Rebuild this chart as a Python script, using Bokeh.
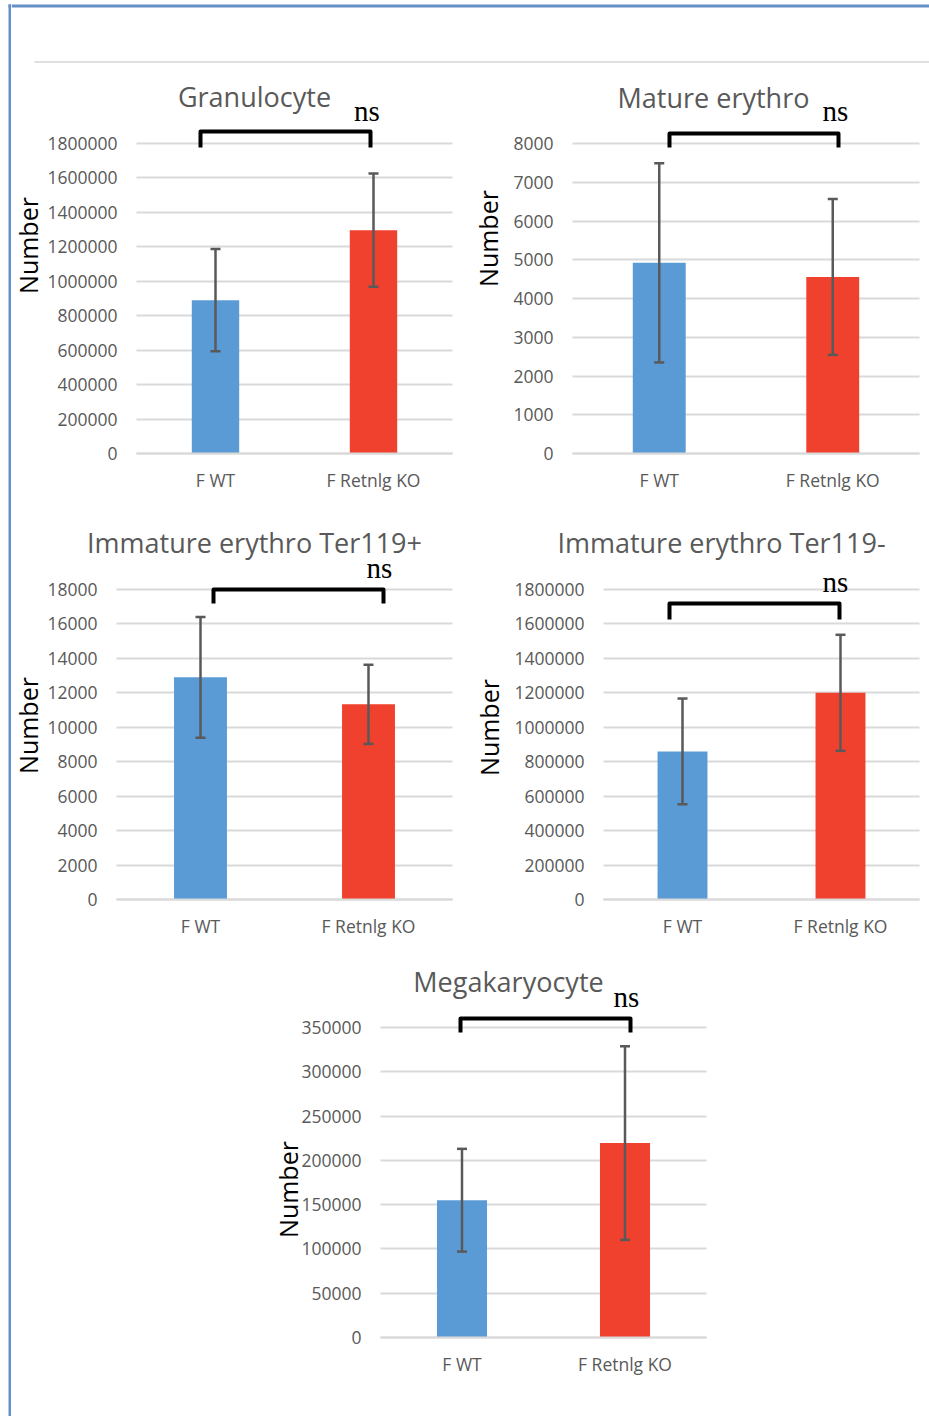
import math

from bokeh.plotting import figure
from bokeh.layouts import row, column
from bokeh.models import (Range1d, FixedTicker, Label, Whisker, TeeHead, Grid,
                          LinearAxis, ColumnDataSource, NumeralTickFormatter)
from bokeh.embed import file_html
from bokeh.resources import INLINE

# ---- data -------------------------------------------------------------
categories = ["F WT", "F Retnlg KO"]
panel_titles = ["Granulocyte", "Mature erythro", "Immature erythro Ter119+",
                "Immature erythro Ter119-", "Megakaryocyte"]
significance = "ns"
y_title = "Number"

granulocyte_mean = [890000, 1297000]
granulocyte_err = [297000, 329000]
granulocyte_ticks = [0, 200000, 400000, 600000, 800000, 1000000, 1200000, 1400000, 1600000, 1800000]

mature_mean = [4920, 4555]
mature_err = [2570, 2010]
mature_ticks = [0, 1000, 2000, 3000, 4000, 5000, 6000, 7000, 8000]

ter119_pos_mean = [12900, 11330]
ter119_pos_err = [3510, 2300]
ter119_pos_ticks = [0, 2000, 4000, 6000, 8000, 10000, 12000, 14000, 16000, 18000]

ter119_neg_mean = [860000, 1200000]
ter119_neg_err = [307000, 337000]
ter119_neg_ticks = [0, 200000, 400000, 600000, 800000, 1000000, 1200000, 1400000, 1600000, 1800000]

mega_mean = [155000, 219500]
mega_err = [58000, 109300]
mega_ticks = [0, 50000, 100000, 150000, 200000, 250000, 300000, 350000]

# ---- style ------------------------------------------------------------
BAR_COLORS = ["#5b9bd5", "#ef412d"]
GRID = "#d9d9d9"
TEXT = "#595959"
ERR = "#595959"
BORDER = "#6590c8"
SANS = "Open Sans"
SERIF = "Liberation Serif"

PAGE_W, PAGE_H = 929, 1416
STRIP_W = 11
HEADER_H = 70

# page geometry of each panel in pixels: figure origin/size, plot area
# (left, right, zero line, top tick line) and placement of the annotations
layouts = [
    dict(origin=(11, 70), size=(459, 435), area=(136, 452, 453, 143), bar_width=0.30,
         title_xy=(254, 96.2), ns_xy=(366.5, 110.2), ylabel_xy=(27, 245),
         bracket=(200, 370, 131, 147)),
    dict(origin=(470, 70), size=(459, 435), area=(572, 919, 453, 143), bar_width=0.305,
         title_xy=(713, 96.8), ns_xy=(835, 110.2), ylabel_xy=(487, 238),
         bracket=(669, 838, 133, 147)),
    dict(origin=(11, 505), size=(459, 440), area=(116, 452, 899, 589), bar_width=0.315,
         title_xy=(254, 541.8), ns_xy=(379, 567.2), ylabel_xy=(27, 725),
         bracket=(213, 383, 589, 603)),
    dict(origin=(470, 505), size=(459, 440), area=(603, 919, 899, 589), bar_width=0.316,
         title_xy=(721, 541.8), ns_xy=(835, 581.9), ylabel_xy=(488, 727),
         bracket=(669, 839, 603, 619)),
    dict(origin=(11, 945), size=(918, 471), area=(380, 706, 1337, 1027), bar_width=0.307,
         title_xy=(508, 981.2), ns_xy=(626, 996.2), ylabel_xy=(287, 1189),
         bracket=(460, 630, 1018, 1032)),
]

series = [
    (granulocyte_mean, granulocyte_err, granulocyte_ticks),
    (mature_mean, mature_err, mature_ticks),
    (ter119_pos_mean, ter119_pos_err, ter119_pos_ticks),
    (ter119_neg_mean, ter119_neg_err, ter119_neg_ticks),
    (mega_mean, mega_err, mega_ticks),
]

HAS_CROSS_BOUNDS = "cross_bounds" in Grid.properties()


def make_panel(title, means, errs, ticks, lay):
    ox, oy = lay["origin"]
    w, h = lay["size"]
    left, right, zero, top_tick = lay["area"]
    n = len(categories)
    ymax = ticks[-1]

    def dx(px):
        return (px - left) / (right - left) * n

    def dy(py):
        return (zero - py) / (zero - top_tick) * ymax

    # the frame covers the whole figure; axes sit at fixed data locations
    p = figure(width=w, height=h,
               x_range=Range1d(dx(ox), dx(ox + w)), y_range=Range1d(dy(oy + h), dy(oy)),
               x_axis_type=None, y_axis_type=None, min_border=0,
               toolbar_location=None, output_backend="svg")
    p.outline_line_color = None
    p.background_fill_color = "white"
    p.border_fill_color = "white"
    p.grid.visible = False

    xs = [i + 0.5 for i in range(n)]

    # horizontal gridlines over the plot area only
    if HAS_CROSS_BOUNDS:
        grid = Grid(dimension=1, ticker=FixedTicker(ticks=ticks), cross_bounds=(0, n),
                    grid_line_color=GRID, grid_line_width=2)
        p.add_layout(grid)
    else:
        p.segment(x0=[0] * len(ticks), x1=[n] * len(ticks), y0=ticks, y1=ticks,
                  line_color=GRID, line_width=2)

    src = ColumnDataSource(dict(
        x=xs, top=means, color=BAR_COLORS,
        upper=[m + e for m, e in zip(means, errs)],
        lower=[m - e for m, e in zip(means, errs)],
    ))
    p.vbar(x="x", top="top", bottom=0, width=lay["bar_width"], fill_color="color",
           line_color=None, source=src)

    # error bars drawn on top of the bars
    p.add_layout(Whisker(source=src, base="x", upper="upper", lower="lower",
                         dimension="height", line_color=ERR, line_width=2.5,
                         level="annotation",
                         upper_head=TeeHead(size=10, line_color=ERR, line_width=2.5),
                         lower_head=TeeHead(size=10, line_color=ERR, line_width=2.5)))

    yaxis = LinearAxis(fixed_location=0, ticker=FixedTicker(ticks=ticks),
                       formatter=NumeralTickFormatter(format="0"), bounds=(0, ymax),
                       axis_line_color=None, major_tick_line_color=None,
                       minor_tick_line_color=None, major_tick_out=0, major_tick_in=0,
                       major_label_standoff=19, major_label_text_font=SANS,
                       major_label_text_font_size="17.5px", major_label_text_color=TEXT)
    p.add_layout(yaxis, "left")

    xaxis = LinearAxis(fixed_location=0, ticker=FixedTicker(ticks=xs), bounds=(0, n),
                       major_label_overrides={x: c for x, c in zip(xs, categories)},
                       axis_line_color=GRID, axis_line_width=2,
                       major_tick_line_color=None, minor_tick_line_color=None,
                       major_tick_out=0, major_tick_in=0,
                       major_label_standoff=14, major_label_text_font=SANS,
                       major_label_text_font_size="17.5px", major_label_text_color=TEXT)
    p.add_layout(xaxis, "below")

    # significance bracket
    bx0, bx1, btop, bleg = lay["bracket"]
    p.line(x=[dx(bx0), dx(bx0), dx(bx1), dx(bx1)],
           y=[dy(bleg), dy(btop), dy(btop), dy(bleg)],
           line_color="black", line_width=4, line_join="round")

    tx, ty = lay["title_xy"]
    p.add_layout(Label(x=dx(tx), y=dy(ty), text=title, text_align="center",
                       text_baseline="middle", text_font=SANS,
                       text_font_size="27px", text_color=TEXT))
    nx, ny = lay["ns_xy"]
    p.add_layout(Label(x=dx(nx), y=dy(ny), text=significance, text_align="center",
                       text_baseline="middle", text_font=SERIF,
                       text_font_size="29px", text_color="black"))
    lx, ly = lay["ylabel_xy"]
    p.add_layout(Label(x=dx(lx), y=dy(ly), text=y_title, angle=math.pi / 2,
                       text_align="center", text_baseline="middle", text_font=SANS,
                       text_font_size="25px", text_color="black"))
    return p


panels = [make_panel(t, m, e, tk, lay)
          for t, (m, e, tk), lay in zip(panel_titles, series, layouts)]

# page frame: blue left/top rule and the grey separator line
strip = figure(width=STRIP_W, height=PAGE_H, x_range=Range1d(0, STRIP_W),
               y_range=Range1d(PAGE_H, 0), x_axis_type=None, y_axis_type=None,
               min_border=0, toolbar_location=None, output_backend="svg")
strip.outline_line_color = None
strip.grid.visible = False
strip.segment(x0=[9.5], y0=[4], x1=[9.5], y1=[PAGE_H], line_color=BORDER, line_width=3)
strip.segment(x0=[8], y0=[5.5], x1=[STRIP_W], y1=[5.5], line_color=BORDER, line_width=3)

header = figure(width=PAGE_W - STRIP_W, height=HEADER_H, x_range=Range1d(STRIP_W, PAGE_W),
                y_range=Range1d(HEADER_H, 0), x_axis_type=None, y_axis_type=None,
                min_border=0, toolbar_location=None, output_backend="svg")
header.outline_line_color = None
header.grid.visible = False
header.segment(x0=[STRIP_W], y0=[5.5], x1=[PAGE_W], y1=[5.5], line_color=BORDER, line_width=3)
header.segment(x0=[34], y0=[61.5], x1=[PAGE_W], y1=[61.5], line_color="#d4d4d4", line_width=1.5)

body = column(header, row(panels[0], panels[1]), row(panels[2], panels[3]), panels[4])
page = row(strip, body)

open("out.html", "w").write(file_html(page, INLINE))
